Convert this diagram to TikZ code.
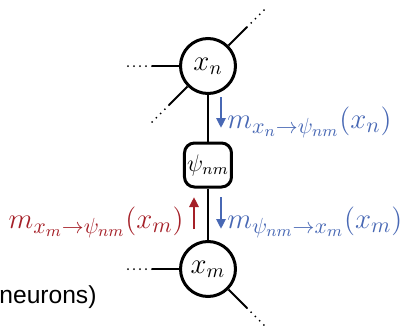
\documentclass[tikz,border=0pt]{standalone}
\usepackage{fontspec}
\newfontfamily\sansf{Liberation Sans}
\usetikzlibrary{arrows.meta}
\definecolor{blueM}{RGB}{72,104,180}
\definecolor{redM}{RGB}{165,32,40}
\tikzset{
  var/.style={circle,draw=black,line width=1.5pt,minimum size=27.5pt,inner sep=0pt,font=\fontsize{14}{16}\selectfont},
  fac/.style={rectangle,rounded corners=5pt,draw=black,line width=1.5pt,minimum width=23.5pt,minimum height=22pt,inner sep=0pt,font=\fontsize{11.5}{13}\selectfont},
  edge/.style={line width=1pt},
  dotsline/.style={line width=1pt,line cap=round,dash pattern=on 0pt off 3pt},
  msg/.style={line width=1.3pt,-{Triangle[length=5pt,width=4.5pt]}},
  lab/.style={inner sep=0pt,font=\fontsize{15.5}{18}\selectfont}
}
\begin{document}
\begin{tikzpicture}[x=0.5pt,y=-0.5pt]
\useasboundingbox (0,0) rectangle (403,327);
\node[var] (xn) at (208,66) {$x_n$};
\node[fac] (psi) at (208,165) {$\psi_{nm}$};
\node[var] (xm) at (208,269) {$x_m$};
\draw[edge] (xn) -- (psi);
\draw[edge] (psi) -- (xm);
% edges of x_n
\coordinate (nL1) at (152,66); \coordinate (nL2) at (126,66);
\coordinate (nU1) at (247,27); \coordinate (nU2) at (266,8);
\coordinate (nD1) at (169,105); \coordinate (nD2) at (150,124);
\draw[edge] (xn.west) -- (nL1); \draw[dotsline] (nL1) -- (nL2);
\draw[edge] (xn.45) -- (nU1); \draw[dotsline] (nU1) -- (nU2);
\draw[edge] (xn.225) -- (nD1); \draw[dotsline] (nD1) -- (nD2);
% edges of x_m
\coordinate (mL1) at (152,269); \coordinate (mL2) at (126,269);
\coordinate (mD1) at (247,308); \coordinate (mD2) at (266,327);
\draw[edge] (xm.west) -- (mL1); \draw[dotsline] (mL1) -- (mL2);
\draw[edge] (xm.-45) -- (mD1); \draw[dotsline] (mD1) -- (mD2);
% messages
\coordinate (a1s) at (221,97); \coordinate (a1e) at (221,128);
\draw[msg,blueM] (a1s) -- (a1e);
\node[lab,text=blueM,anchor=west] (l1) at (227,122) {$m_{x_n\to\psi_{nm}}(x_n)$};
\coordinate (a2s) at (194,229); \coordinate (a2e) at (194,197);
\draw[msg,redM] (a2s) -- (a2e);
\node[lab,text=redM,anchor=east] (l2) at (184,222) {$m_{x_m\to\psi_{nm}}(x_m)$};
\coordinate (a3s) at (221,197); \coordinate (a3e) at (221,229);
\draw[msg,blueM] (a3s) -- (a3e);
\node[lab,text=blueM,anchor=west] (l3) at (227,222) {$m_{\psi_{nm}\to x_m}(x_m)$};
\node[anchor=west,inner sep=0pt,font=\sansf\fontsize{12.3}{14}\selectfont] (neu) at (-1,297) {neurons)};
\end{tikzpicture}
\end{document}
